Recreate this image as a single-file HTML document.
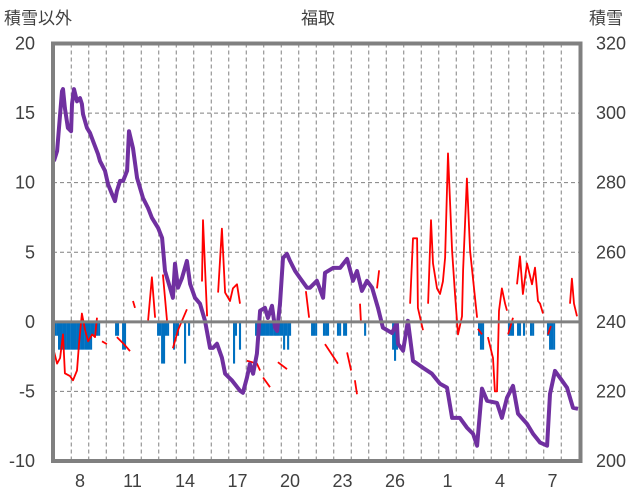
<!DOCTYPE html>
<html><head><meta charset="utf-8"><style>
html,body{margin:0;padding:0;background:#fff;}
svg{display:block;font-family:"Liberation Sans","Noto Sans CJK JP",sans-serif;}
</style></head><body>
<svg id="chart" width="636" height="501" viewBox="0 0 636 501" xmlns="http://www.w3.org/2000/svg">
<rect x="0" y="0" width="636" height="501" fill="#fff"/>
<g id="grid"></g>
<g id="bars"></g>
<g id="red"></g>
<g id="purple"></g>
<line id="zero" x1="53" x2="580.5" stroke="#808080" stroke-width="3"/>
<rect x="53" y="43.5" width="527.5" height="417.5" fill="none" stroke="#808080" stroke-width="4"/>
<g id="axes" fill="#404040" font-size="18"></g>
<text x="4" y="24" font-size="17" fill="#404040">積雪以外</text>
<text x="318" y="24" font-size="17" fill="#404040" text-anchor="middle">福取</text>
<text x="589" y="24" font-size="17" fill="#404040">積雪</text>
</svg>
<script>
const leftTicks=[20,15,10,5,0,-5,-10];
const rightTicks=[320,300,280,260,240,220,200];
const xDays=[8,11,14,17,20,23,26,29,32,35];
const xLabels=["8","11","14","17","20","23","26","1","4","7"];
const snowT=[6.51,6.69,6.97,7.03,7.14,7.31,7.49,7.54,7.66,7.83,8.0,8.11,8.17,8.4,8.57,8.74,9.03,9.14,9.43,9.6,9.83,10.0,10.11,10.29,10.46,10.69,10.8,11.03,11.26,11.6,11.89,12.11,12.46,12.69,12.86,13.14,13.31,13.43,13.6,13.83,14.11,14.29,14.57,14.86,15.14,15.43,15.6,15.83,16.11,16.29,16.69,17.14,17.31,17.54,17.71,17.89,18.11,18.29,18.57,18.74,18.97,19.14,19.26,19.43,19.6,19.83,20.0,20.29,20.57,20.97,21.14,21.54,21.89,22.0,22.46,22.86,23.26,23.6,23.83,24.11,24.4,24.69,25.03,25.31,25.83,26.11,26.17,26.46,26.74,27.03,27.6,28.11,28.57,28.97,29.26,29.71,30.11,30.46,30.69,30.97,31.26,31.83,32.11,32.4,32.74,33.03,33.54,33.89,34.29,34.69,34.86,35.14,35.43,35.83,36.17,36.46];
const snowV=[286.2,289.1,306.3,306.9,301.4,295.7,294.8,302.6,306.9,303.4,304.3,302.6,299.7,295.7,294.3,292.0,288.2,286.2,283.4,279.6,276.7,274.7,277.6,280.5,280.5,283.4,294.8,289.9,281.3,275.6,272.7,269.9,267.0,264.1,254.6,249.8,246.9,256.7,249.8,252.6,257.5,250.9,246.9,245.2,240.3,232.5,232.5,233.7,229.7,225.1,223.1,220.2,219.6,223.9,227.9,225.1,230.8,243.2,244.0,241.1,244.6,238.3,237.4,245.2,258.4,259.5,257.5,254.6,252.6,249.8,249.8,251.8,246.9,254.1,255.5,255.5,258.1,251.8,254.6,248.9,251.8,249.8,244.0,238.3,236.8,239.7,233.7,231.7,240.3,228.8,226.8,225.1,222.2,221.1,212.4,212.4,209.6,207.8,204.4,220.8,217.3,216.7,212.4,218.2,221.6,213.6,210.7,207.8,205.3,204.4,219.3,225.9,223.9,221.1,215.3,215.0];
const tempT=[6.51,6.69,6.86,7.03,7.14,7.43,7.6,7.83,7.94,8.11,8.29,8.46,8.69,8.86,8.97,null,9.26,9.54,null,10.11,10.51,10.86,null,11.03,11.14,null,11.89,12.11,12.29,null,12.74,12.97,null,13.31,13.6,14.11,null,14.97,15.03,15.26,null,15.89,16.11,16.29,16.57,16.74,16.97,17.14,null,17.54,18.11,18.29,null,18.46,18.86,null,19.31,19.83,null,20.91,21.09,null,22.0,22.74,null,23.26,23.49,null,23.71,23.83,null,24.0,24.06,null,24.97,25.09,null,26.86,27.03,27.26,27.31,27.6,null,27.89,28.06,28.17,28.4,28.57,28.74,28.86,29.03,29.26,29.43,29.6,29.83,29.89,30.11,30.29,30.69,null,30.74,30.97,null,31.31,31.6,31.71,31.83,31.94,32.11,32.29,32.4,null,32.46,32.74,null,32.97,33.14,33.31,33.54,33.83,34.0,34.17,34.29,34.46,null,34.74,34.91,null,36.0,36.11,36.23,36.4];
const tempV=[-2.1,-3.0,-2.6,-0.9,-3.7,-3.9,-4.2,-3.5,-1.6,0.6,-0.6,-1.4,-0.9,-1.1,0.3,null,-1.4,-1.6,null,-1.1,-1.6,-2.1,null,1.5,1.0,null,0.1,3.2,0.3,null,3.4,0.1,null,-1.9,-0.6,0.9,null,2.9,7.3,0.4,null,2.1,6.7,2.1,1.5,2.4,2.7,1.3,null,-2.8,-3.0,-3.5,null,-4.0,-4.7,null,-2.9,-3.4,null,2.2,0.3,null,-1.6,-3.0,null,-2.2,-3.5,null,-4.2,-5.2,null,1.3,-0.1,null,2.4,3.7,null,1.3,6.0,6.0,1.0,-0.6,null,1.3,7.3,4.2,2.4,2.0,2.9,4.6,12.1,5.1,2.0,-0.9,0.4,3.7,10.3,5.1,0.3,null,-0.5,-0.9,null,-1.1,-2.6,-5.0,-5.0,0.8,2.4,1.3,0.8,null,-0.9,0.3,null,2.7,4.7,2.0,4.2,2.7,3.9,1.5,1.3,0.6,null,-0.9,-0.3,null,1.3,3.1,1.3,0.4];
const barT=[6.57,6.69,6.80,6.91,7.03,7.14,7.26,7.37,7.49,7.60,7.71,7.83,7.94,8.06,8.17,8.29,8.40,8.51,8.63,8.74,8.86,8.97,9.09,10.06,10.17,10.46,10.57,12.46,12.57,12.69,12.80,12.91,13.03,13.37,13.49,13.60,14.0,14.23,16.8,16.91,17.14,18.06,18.17,18.29,18.40,18.51,18.63,18.74,18.86,18.97,19.09,19.20,19.31,19.43,19.54,19.66,19.77,19.89,20.0,21.26,21.37,21.49,21.94,22.06,22.17,22.74,22.86,23.09,23.20,24.29,25.89,26.0,26.11,30.8,30.91,31.03,32.51,32.63,32.74,33.03,33.14,33.37,33.77,33.89,34.74,34.86,34.97,35.09];
const barV=[-1,-1,-2,-2,-2,-2,-2,-2,-2,-2,-2,-2,-2,-2,-2,-2,-2,-2,-2,-1,-1,-1,-1,-1,-1,-2,-2,-1,-1,-3,-3,-1,-1,-2,-1,-1,-3,-1,-3,-1,-2,-1,-1,-1,-1,-1,-1,-1,-1,-1,-1,-1,-1,-1,-1,-2,-1,-2,-1,-1,-1,-1,-1,-1,-1,-1,-1,-1,-1,-1,-2,-2.8,-2,-1,-2,-2,-1,-1,-1,-1,-1,-1,-1,-1,-1,-2,-2,-2];

const NS="http://www.w3.org/2000/svg";
const TOP=43.5,BOT=461,L=53,R=580.5;
function xS(t){return 80+(t-8)*17.5;}
function yL(v){return BOT-(v+10)*(BOT-TOP)/30;}
function yR(s){return BOT-(s-200)*(BOT-TOP)/120;}
function mk(tag,attrs,parent){const e=document.createElementNS(NS,tag);for(const k in attrs)e.setAttribute(k,attrs[k]);parent.appendChild(e);return e;}

const grid=document.getElementById('grid');
for(const v of leftTicks){
  if(v===20||v===-10||v===0)continue;
  const g=mk('line',{x1:L,x2:R,y1:yL(v),y2:yL(v),stroke:'#808080','stroke-width':1,'stroke-dasharray':'4,3'},grid);
  
  
}
for(let d=7;d<=36;d++){
  const x=xS(d)-8.75; if(x<=L+2||x>=R-2)continue;
  const g=mk('line',{x1:x,x2:x,y1:TOP,y2:BOT,stroke:'#808080','stroke-width':1,'stroke-dasharray':'4,3'},grid);
  
  
}
document.getElementById('zero').setAttribute('y1',yL(0));
document.getElementById('zero').setAttribute('y2',yL(0));

const bars=document.getElementById('bars');
for(let i=0;i<barT.length;i++){
  const y0=yL(0),y1=yL(barV[i]);
  const b=mk('rect',{x:xS(barT[i])-1,y:y0,width:2.1,height:y1-y0,fill:'#0070C0'},bars);
  
  
}

const red=document.getElementById('red');
let d='',pen=false;
for(let i=0;i<tempT.length;i++){
  if(tempT[i]===null){pen=false;continue;}
  d+=(pen?'L':'M')+xS(tempT[i]).toFixed(1)+','+yL(tempV[i]).toFixed(1);pen=true;
}
const rp=mk('path',{d:d,fill:'none',stroke:'#FF0000','stroke-width':1.8,'stroke-linejoin':'round'},red);



const pur=document.getElementById('purple');
let pd='';
for(let i=0;i<snowT.length;i++)pd+=(i?'L':'M')+xS(snowT[i]).toFixed(1)+','+yR(snowV[i]).toFixed(1);
const pp=mk('path',{d:pd,fill:'none',stroke:'#7030A0','stroke-width':4,'stroke-linejoin':'round'},pur);



const axes=document.getElementById('axes');
for(const v of leftTicks){
  const t=mk('text',{x:35,y:yL(v)+6,'text-anchor':'end'},axes);t.textContent=String(v);
  
  
}
for(const s of rightTicks){
  const t=mk('text',{x:596,y:yR(s)+6},axes);t.textContent=String(s);
  
  
}
for(let i=0;i<xDays.length;i++){
  const t=mk('text',{x:xS(xDays[i]),y:487,'text-anchor':'middle'},axes);t.textContent=xLabels[i];
  
  
}
</script>
</body></html>
